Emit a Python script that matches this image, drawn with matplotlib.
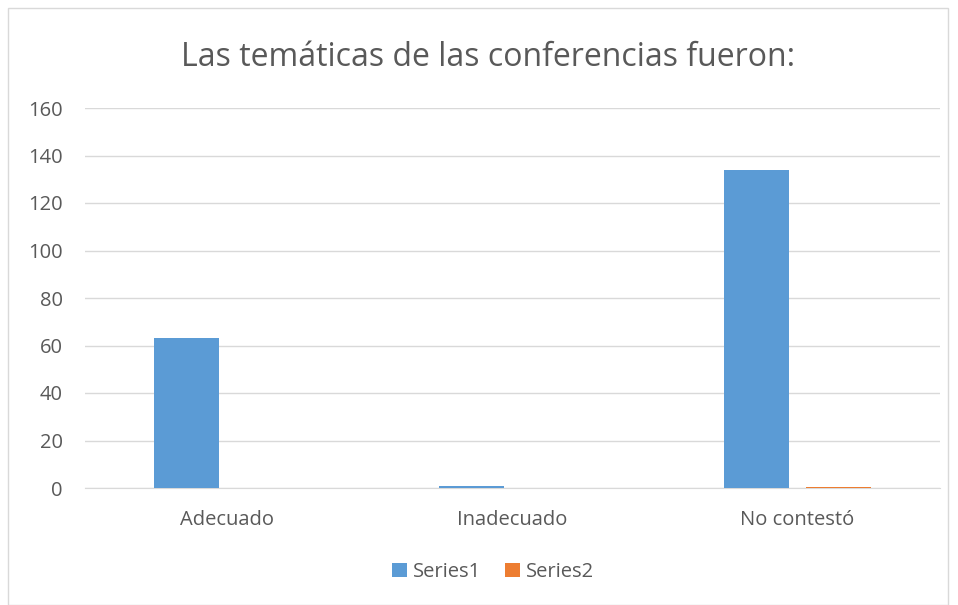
import matplotlib.pyplot as plt
import numpy as np
from matplotlib.patches import Rectangle

categories = ['Adecuado', 'Inadecuado', 'No contestó']
series1 = [63, 1, 134]
series2 = [0, 0, 0.5]
series_names = ['Series1', 'Series2']
yticks = [0, 20, 40, 60, 80, 100, 120, 140, 160]

blue = '#5B9BD5'
orange = '#ED7D31'
text_col = '#595959'
grid_col = '#D9D9D9'

plt.rcParams['font.family'] = ['Open Sans', 'DejaVu Sans']

fig = plt.figure(figsize=(9.58, 6.05), dpi=100)
fig.patches.append(Rectangle((8 / 958, 0), 940 / 958, 597 / 605, transform=fig.transFigure,
                             fill=False, edgecolor=grid_col, linewidth=1))

ax = fig.add_axes([85 / 958, 1 - 488 / 605, 855 / 958, 380 / 605])
x = np.arange(len(categories))
w = 0.225
off = 0.144
ax.bar(x - off, series1, w, color=blue, label=series_names[0], zorder=3)
ax.bar(x + off, series2, w, color=orange, label=series_names[1], zorder=3)

ax.set_xlim(-0.5, 2.5)
ax.set_ylim(0, 160)
ax.set_yticks(yticks)
ax.set_xticks(x)
ax.set_xticklabels(categories)
ax.yaxis.grid(True, color=grid_col, linewidth=1, zorder=0)
ax.set_axisbelow(True)
for s in ['top', 'right', 'left']:
    ax.spines[s].set_visible(False)
ax.spines['bottom'].set_color(grid_col)
ax.tick_params(length=0, colors=text_col, labelsize=14.5)
ax.tick_params(axis='x', pad=16)
ax.tick_params(axis='y', pad=16)

fig.text(488 / 958, 1 - 57 / 605, 'Las temáticas de las conferencias fueron:',
         ha='center', va='center', fontsize=23, color=text_col)

fig.legend(loc='center', bbox_to_anchor=(493 / 958, 1 - 572 / 605), ncol=2, frameon=False,
           fontsize=14.5, labelcolor=text_col, handlelength=0.75, handleheight=0.75,
           handletextpad=0.3, columnspacing=1.2)

fig.savefig('out.png', dpi=100)
